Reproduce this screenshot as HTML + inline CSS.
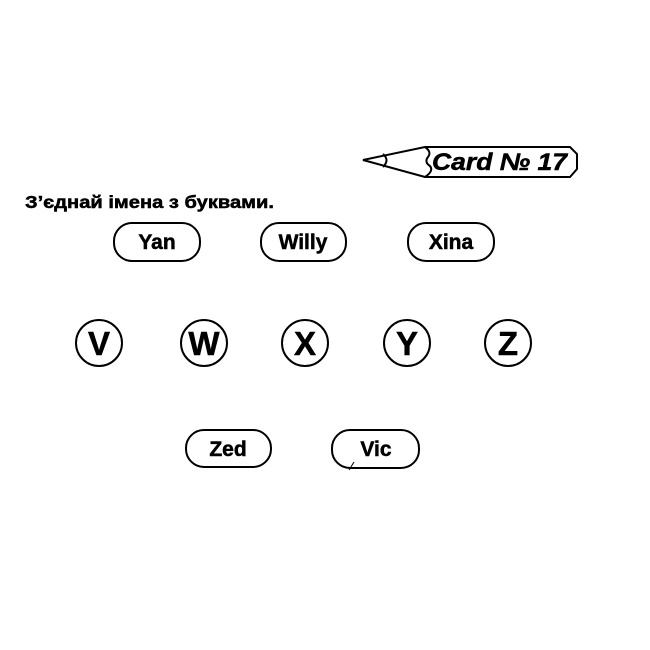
<!DOCTYPE html>
<html><head><meta charset="utf-8"><style>
html,body{margin:0;padding:0;background:#fff;}
svg{display:block;}
text{font-family:"Liberation Sans",sans-serif;font-weight:bold;fill:#000;stroke:#000;stroke-width:0.5;}
</style></head><body>
<svg width="650" height="650" viewBox="0 0 650 650" xmlns="http://www.w3.org/2000/svg">
<g fill="none" stroke="#000" stroke-width="2">
<path d="M425,147 L570,147 L577,154 L577,169 L570,177 L425,177 L363,160 Z"/>
<path d="M383,154 Q390,160 383,167"/>
<path d="M425,147 Q432,152 428,157 Q424,162 430,166 Q434,171 425,177"/>
<rect x="114" y="223" width="86" height="38" rx="18"/>
<rect x="261" y="223" width="85" height="38" rx="18"/>
<rect x="408" y="223" width="86" height="38" rx="18"/>
<rect x="186" y="430" width="85" height="37" rx="18"/>
<rect x="332" y="430" width="87" height="38" rx="18"/>
<path d="M354,462 L349,470" stroke-width="1"/>
<circle cx="99" cy="343" r="23"/>
<circle cx="204" cy="343" r="23"/>
<circle cx="305" cy="343" r="23"/>
<circle cx="407" cy="343" r="23"/>
<circle cx="508" cy="343" r="23"/>
</g>
<text x="432" y="170" font-size="24" font-style="italic" textLength="135" lengthAdjust="spacingAndGlyphs">Card № 17</text>
<text x="25" y="208" font-size="17.5" textLength="249" lengthAdjust="spacingAndGlyphs">З’єднай імена з буквами.</text>
<g font-size="21" text-anchor="middle">
<text x="157" y="249">Yan</text>
<text x="303" y="249">Willy</text>
<text x="451" y="249">Xina</text>
<text x="228" y="456">Zed</text>
<text x="376" y="456">Vic</text>
</g>
<g font-size="33" text-anchor="middle" style="stroke-width:1">
<text x="99" y="355">V</text>
<text x="204" y="355">W</text>
<text x="305" y="355">X</text>
<text x="407" y="355">Y</text>
<text x="508" y="355">Z</text>
</g>
</svg>
</body></html>
